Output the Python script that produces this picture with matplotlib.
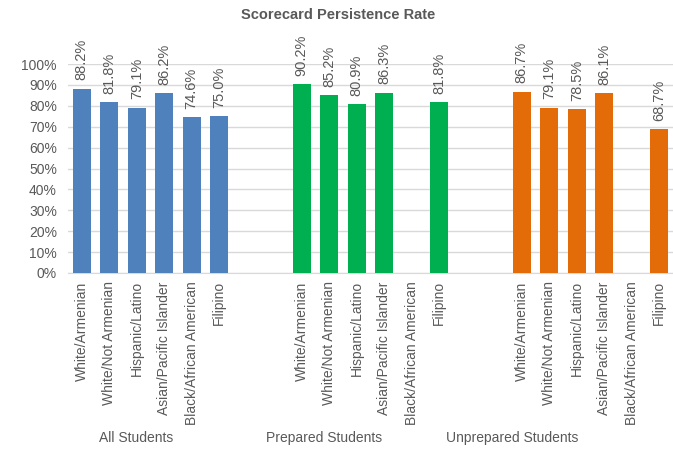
import numpy as np
import matplotlib
matplotlib.use("Agg")
import matplotlib.pyplot as plt

plt.rcParams['font.family'] = ['Liberation Sans', 'DejaVu Sans']

categories = ["White/Armenian", "White/Not Armenian", "Hispanic/Latino",
              "Asian/Pacific Islander", "Black/African American", "Filipino"]
groups = ["All Students", "Prepared Students", "Unprepared Students"]
all_students = [88.2, 81.8, 79.1, 86.2, 74.6, 75.0]
prepared = [90.2, 85.2, 80.9, 86.3, np.nan, 81.8]
unprepared = [86.7, 79.1, 78.5, 86.1, np.nan, 68.7]
series = [all_students, prepared, unprepared]
colors = ["#4F81BD", "#00B050", "#E36C09"]
yticks = [0, 10, 20, 30, 40, 50, 60, 70, 80, 90, 100]

W, H = 673, 453
fig = plt.figure(figsize=(W / 100, H / 100), dpi=100)
ax = fig.add_axes([68 / W, (H - 273) / H, (673 - 68) / W, (273 - 64) / H])

slot = 8
gray = "#595959"
for g, (vals, col) in enumerate(zip(series, colors)):
    xs = np.arange(len(categories)) + g * slot
    v = np.array(vals, dtype=float)
    ax.bar(xs, np.nan_to_num(v), width=0.66, color=col, zorder=3)
    for x, val in zip(xs, v):
        if np.isnan(val):
            continue
        ax.annotate(f"{val:.1f}%", (x, val), xytext=(0, 6), textcoords="offset points",
                    rotation=90, ha="center", va="bottom", fontsize=10.5, color=gray,
                    annotation_clip=False)
    for x, c in zip(xs, categories):
        ax.text(x, -0.04, c, transform=ax.get_xaxis_transform(), rotation=90,
                ha="center", va="top", fontsize=10, color=gray)

label_x = [1.96, 8.8, 15.67]
for lx, gname in zip(label_x, groups):
    ax.text(lx, -0.79, gname, transform=ax.get_xaxis_transform(),
            ha="center", va="center", fontsize=10, color=gray)

ax.set_xlim(-0.5, 21.5)
ax.set_ylim(0, 100)
ax.set_yticks(yticks)
ax.set_yticklabels([f"{t}%" for t in yticks], fontsize=10, color=gray)
ax.set_xticks([])
ax.tick_params(axis="y", length=0, pad=8)
ax.grid(axis="y", color="#D9D9D9", linewidth=1, zorder=0)
for s in ["top", "right", "left"]:
    ax.spines[s].set_visible(False)
ax.spines["bottom"].set_color("#D9D9D9")

fig.text(338 / W, 1 - 15 / H, "Scorecard Persistence Rate", ha="center", va="center",
         fontsize=10.5, fontweight="bold", color=gray)

fig.savefig("out.png", dpi=100)
